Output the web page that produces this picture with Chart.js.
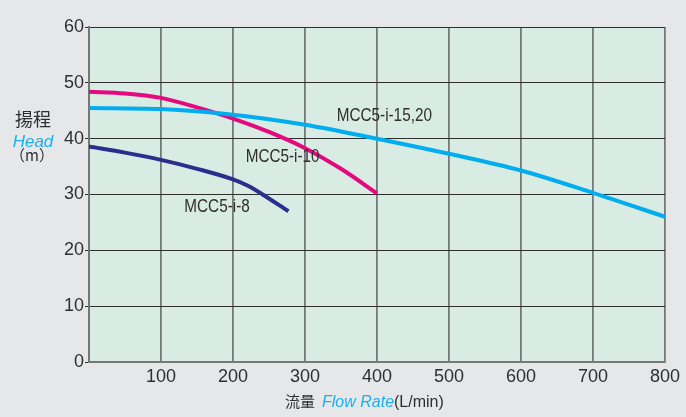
<!DOCTYPE html>
<html>
<head>
<meta charset="utf-8">
<script src="https://cdn.jsdelivr.net/npm/chart.js@4/dist/chart.umd.min.js"></script>
<style>
  html, body { margin: 0; padding: 0; background: #e6e7e8; }
  #wrap { width: 686px; height: 417px; }
</style>
</head>
<body>
<div id="wrap"><canvas id="c" width="686" height="417"></canvas></div>
<script>
// Pump performance curves: head (m) versus flow rate (L/min)
const flowTicks = [100, 200, 300, 400, 500, 600, 700, 800];
const headTicks = [0, 10, 20, 30, 40, 50, 60];

const flow8  = [0, 50, 100, 150, 200, 220, 240, 277];
const head8  = [38.6, 37.5, 36.2, 34.6, 32.7, 31.6, 30.1, 27.0];

const flow10 = [0, 50, 100, 150, 200, 250, 300, 350, 400];
const head10 = [48.4, 48.1, 47.3, 45.6, 43.6, 41.2, 38.3, 34.6, 30.2];

const flow15 = [0, 100, 200, 300, 400, 500, 600, 700, 800];
const head15 = [45.5, 45.3, 44.3, 42.5, 40.0, 37.3, 34.3, 30.3, 26.0];

const seriesNames = ['MCC5-i-8', 'MCC5-i-10', 'MCC5-i-15,20'];

const toPoints = (xs, ys) => xs.map((x, i) => ({ x: x, y: ys[i] }));

const FONT = '"Liberation Sans", Arial, sans-serif';
const CJK = '"Noto Sans CJK JP", sans-serif';
const INK = '#2f2f2f';

// curve captions, anchored in data units (left edge, baseline)
const captions = [
  { text: seriesNames[2], x: 344, y: 43.1 },
  { text: seriesNames[1], x: 217.6, y: 35.9 },
  { text: seriesNames[0], x: 132.4, y: 26.8 }
];

const plotBackground = {
  id: 'plotBackground',
  beforeDraw(chart) {
    const { ctx, chartArea: a } = chart;
    ctx.save();
    ctx.fillStyle = '#d8ece4';
    ctx.fillRect(a.left, a.top, a.right - a.left, a.bottom - a.top);
    ctx.restore();
  }
};

const annotations = {
  id: 'annotations',
  afterDraw(chart) {
    const { ctx } = chart;
    const xs = chart.scales.x, ys = chart.scales.y;
    ctx.save();
    // curve captions (narrow lettering)
    ctx.fillStyle = INK;
    ctx.font = '18px ' + FONT;
    ctx.textBaseline = 'alphabetic';
    ctx.textAlign = 'left';
    captions.forEach(c => {
      ctx.save();
      ctx.translate(xs.getPixelForValue(c.x), ys.getPixelForValue(c.y));
      ctx.scale(0.85, 1);
      ctx.fillText(c.text, 0, 0);
      ctx.restore();
    });

    // y axis title
    ctx.textAlign = 'center';
    ctx.fillStyle = INK;
    ctx.font = '18px ' + CJK;
    ctx.fillText('揚程', 33, 126);
    ctx.fillStyle = '#1ab0ec';
    ctx.font = 'italic 17px ' + FONT;
    ctx.fillText('Head', 33, 147);
    ctx.fillStyle = INK;
    ctx.font = '15px ' + CJK;
    ctx.fillText('（m）', 32, 161);

    // x axis title: mixed colours
    ctx.textAlign = 'left';
    let x = 285;
    const base = 407;
    ctx.fillStyle = INK;
    ctx.font = '15px ' + CJK;
    ctx.fillText('流量', x, base);
    x += ctx.measureText('流量').width + 7;
    ctx.fillStyle = '#1ab0ec';
    ctx.font = 'italic 16px ' + FONT;
    ctx.fillText('Flow Rate', x, base);
    x += ctx.measureText('Flow Rate').width;
    ctx.fillStyle = INK;
    ctx.font = '16px ' + FONT;
    ctx.fillText('(L/min)', x, base);
    ctx.restore();
  }
};

const lineStyle = (color) => ({
  borderColor: color,
  backgroundColor: color,
  borderWidth: 4,
  pointRadius: 0,
  fill: false,
  cubicInterpolationMode: 'monotone'
});

new Chart(document.getElementById('c'), {
  type: 'line',
  data: {
    datasets: [
      Object.assign({ label: seriesNames[2], data: toPoints(flow15, head15) }, lineStyle('#00adee')),
      Object.assign({ label: seriesNames[1], data: toPoints(flow10, head10) }, lineStyle('#e5097f')),
      Object.assign({ label: seriesNames[0], data: toPoints(flow8, head8) }, lineStyle('#2b2e8c'))
    ]
  },
  options: {
    responsive: false,
    animation: false,
    layout: { padding: { top: 27, right: 21, left: 0, bottom: 0 } },
    plugins: { legend: { display: false }, tooltip: { enabled: false } },
    scales: {
      x: {
        type: 'linear',
        min: 0, max: 800,
        afterBuildTicks(scale) { scale.ticks = [0].concat(flowTicks).map(v => ({ value: v })); },
        afterFit(scale) { scale.height = 55; },
        grid: { color: '#767a78', lineWidth: 1.8, drawTicks: false },
        border: { color: '#747876', width: 2 },
        ticks: {
          padding: 4,
          color: INK,
          font: { family: FONT, size: 18 },
          maxRotation: 0,
          autoSkip: false,
          callback: v => (flowTicks.includes(v) ? String(v) : '')
        }
      },
      y: {
        type: 'linear',
        min: 0, max: 60,
        afterBuildTicks(scale) { scale.ticks = headTicks.map(v => ({ value: v })); },
        afterFit(scale) { scale.width = 89; },
        grid: { color: '#2e2e2e', lineWidth: 1, tickLength: 4, drawTicks: true },
        border: { color: '#747876', width: 2 },
        ticks: {
          padding: 1,
          color: INK,
          font: { family: FONT, size: 18 },
          autoSkip: false,
          callback: v => String(v)
        }
      }
    }
  },
  plugins: [plotBackground, annotations]
});
</script>
</body>
</html>
